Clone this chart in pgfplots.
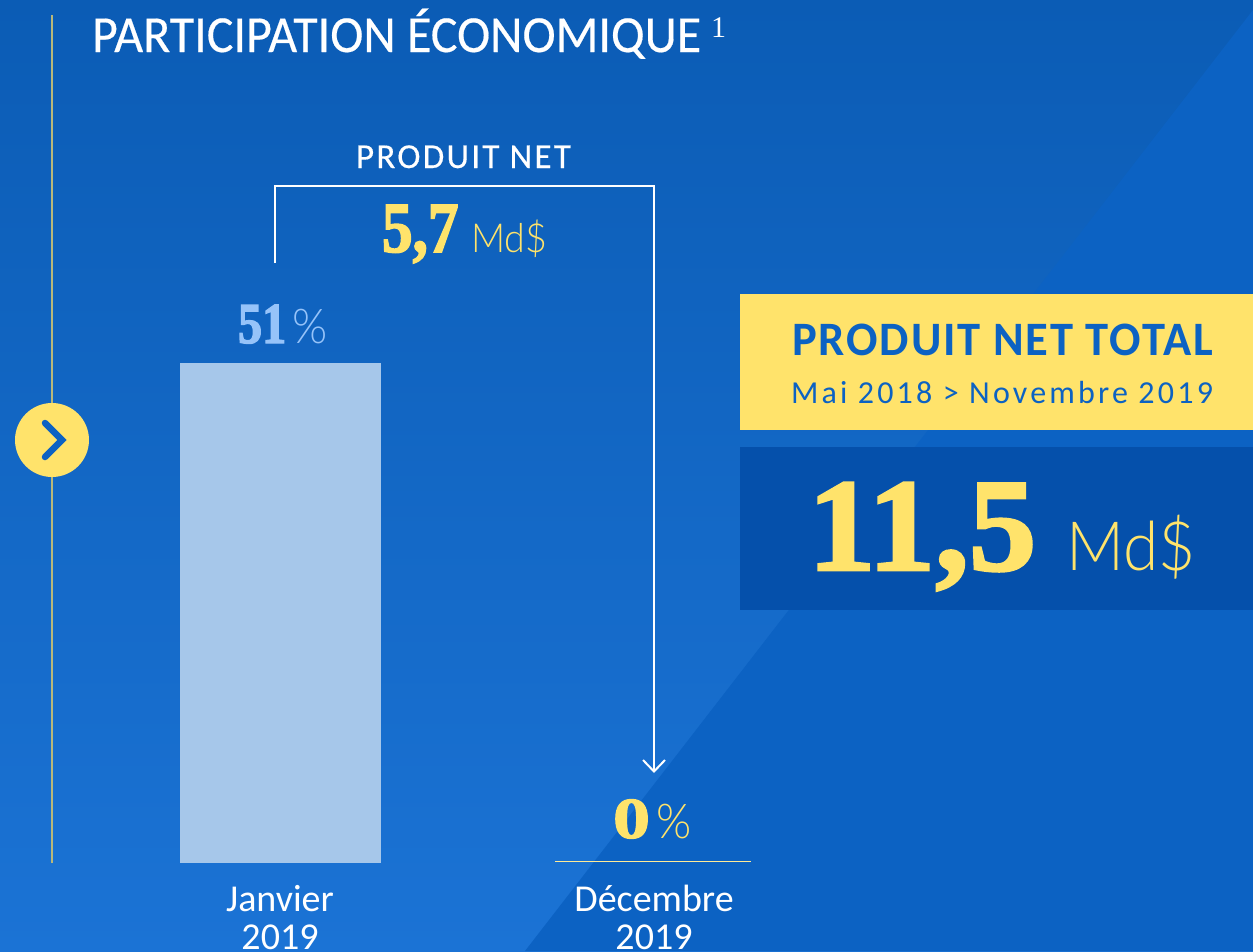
\documentclass[border=0pt]{standalone}
\usepackage{fontspec}
\usepackage{pgfplots}
\pgfplotsset{compat=1.18}
\setmainfont{Carlito}
\newfontfamily\lightf{Lato Light}[FakeStretch=0.94]
\newfontfamily\fatf{Liberation Serif Bold}[FakeBold=2.2]
\newfontfamily\thinserif{Liberation Serif}
\definecolor{yel}{HTML}{FFE36B}
\definecolor{topblue}{HTML}{0B5CB5}
\definecolor{botblue}{HTML}{1B73D5}
\definecolor{rightblue}{HTML}{0C62C3}
\definecolor{darkbox}{HTML}{0550AB}
\definecolor{barc}{HTML}{A6C7EA}
\definecolor{pct}{HTML}{96C3F9}
\definecolor{vline}{HTML}{B8B87A}
\newcommand\fs[1]{\fontsize{#1}{#1}\selectfont}
\begin{document}
\begin{tikzpicture}[x=1pt,y=-1pt,every node/.style={inner sep=0pt,outer sep=0pt,anchor=base west}]
\useasboundingbox (0,0) rectangle (1253,951);
\shade[top color=topblue,bottom color=botblue] (0,0) rectangle (1253,951);
\fill[rightblue] (525,951) -- (1253,10) -- (1253,951) -- cycle;
\begin{axis}[
  at={(0pt,0pt)},anchor=north west,
  scale only axis,width=1253pt,height=951pt,
  xmin=-0.7487,xmax=2.6016,ymin=-8.98,ymax=88.02,
  axis line style={draw=none},
  ymajorticks=false,
  xtick={0,1},xticklabels={Janvier\\2019,Décembre\\2019},
  major tick length=0pt,
  x tick label style={anchor=north,align=center,text=white,yshift=66pt,inner sep=0pt,
     font=\fontsize{38}{38}\selectfont},
  clip=false,
]
\addplot[ybar,bar width=201pt,fill=barc,draw=none,forget plot] coordinates {(0,51)};
\addplot[yel!70!white,line width=1.3pt,forget plot] coordinates {(0.735,0.12) (1.259,0.12)};
\end{axis}
% left rail
\draw[vline,line width=1.5pt] (52,15) -- (52,863);
\fill[yel] (52,440) circle[radius=37];
\draw[rightblue,line width=6.5pt,line cap=round,line join=miter] (45,423) -- (62,440) -- (45,457);
% title
\node[text=white] at (92,52) {\fs{52}\addfontfeature{FakeStretch=0.962,FakeBold=0.35}PARTICIPATION ÉCONOMIQUE};
\node[text=white] at (711,37) {\thinserif\fs{30}1};
% bracket
\draw[white,line width=2pt,line join=miter] (275,263) -- (275,186) -- (654,186) -- (654,771);
\draw[white,line width=2pt] (643,760) -- (654,771.5) -- (665,760);
\node[text=white] at (356,168) {\fs{35}\addfontfeature{LetterSpace=6.5,FakeBold=0.4}PRODUIT NET};
\node[text=yel] at (382,252) {\fatf\addfontfeature{FakeStretch=0.85}\fs{72}5,7};
\node[text=yel] at (471,252) {\lightf\fs{40}Md\$};
\node[text=pct] at (238,343) {\fatf\addfontfeature{FakeStretch=0.83}\fs{58}51};
\node[text=pct] at (292,343) {\lightf\fs{48}\%};
\node[text=yel] at (613,838) {\fatf\addfontfeature{FakeStretch=1.28}\fs{58}0};
\node[text=yel] at (656,838) {\lightf\fs{48}\%};
% boxes
\fill[yel] (740,294) rectangle (1253,430);
\fill[darkbox] (740,447) rectangle (1253,610);
\node[text=rightblue] at (792,355) {\fs{48}\bfseries\addfontfeature{LetterSpace=4.0,FakeStretch=0.97}PRODUIT NET TOTAL};
\node[text=rightblue] at (791,403) {\fs{32}\addfontfeature{LetterSpace=10}Mai 2018 > Novembre 2019};
\node[text=yel] at (808,570) {\fatf\addfontfeature{FakeStretch=1.02}\fs{132}11,5};
\node[text=yel] at (1066,570) {\lightf\fs{68}Md\$};
\end{tikzpicture}
\end{document}
